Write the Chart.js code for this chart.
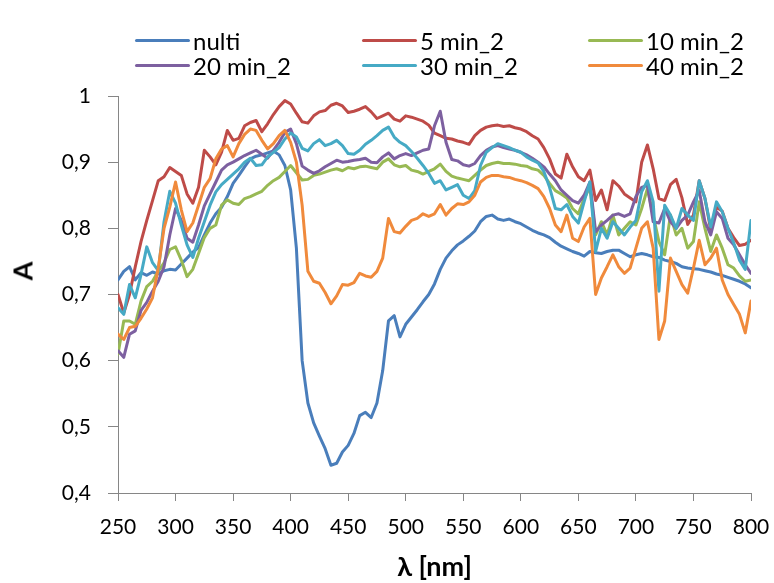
<!DOCTYPE html>
<html>
<head>
<meta charset="utf-8">
<script src="https://cdn.jsdelivr.net/npm/chart.js@4.4.1/dist/chart.umd.min.js"></script>
<style>
  body { margin: 0; background: #fff; }
  #wrap { position: relative; width: 774px; height: 583px; }
  #legend { position: absolute; left: 0; top: 0; width: 774px; height: 90px; font-family: Lato, sans-serif; font-size: 24px; color: #000; }
  .item { position: absolute; display: flex; align-items: center; height: 26px; white-space: nowrap; }
  .swatch { display: inline-block; width: 55px; height: 3px; border-radius: 2px; margin-right: 3px; }
  #ytitle { position: absolute; left: 22px; top: 271px; font-family: Lato, sans-serif; font-weight: bold; font-size: 27px;
            transform: translate(-50%, -50%) rotate(-90deg); line-height: 1; }
</style>
</head>
<body>
<div id="wrap">
  <canvas id="myChart" width="774" height="583"></canvas>
  <div id="legend"></div>
  <div id="ytitle">A</div>
</div>
<script>
// wavelength grid, 5 nm steps
const wavelength = []
for (let nm = 250; nm <= 800; nm += 5) wavelength.push(nm)

const seriesNames = ['nulti', '5 min_2', '10 min_2', '20 min_2', '30 min_2', '40 min_2']
const seriesColors = ['#4A7EBB', '#BE4B48', '#98B954', '#7D60A0', '#46AAC5', '#F08A3C']

const yTicks = [0.4, 0.5, 0.6, 0.7, 0.8, 0.9, 1]

const nulti = [
  0.722, 0.735, 0.742, 0.722, 0.733, 0.729, 0.734, 0.731, 0.736, 0.738,
  0.737, 0.746, 0.755, 0.764, 0.771, 0.79, 0.808, 0.822, 0.832, 0.848,
  0.868, 0.88, 0.893, 0.905, 0.909, 0.911, 0.914, 0.917, 0.911, 0.895,
  0.858, 0.77, 0.6, 0.536, 0.506, 0.486, 0.467, 0.442, 0.445, 0.462,
  0.472, 0.49, 0.517, 0.522, 0.514, 0.536, 0.585, 0.66, 0.668, 0.636,
  0.655, 0.666, 0.677, 0.689, 0.7, 0.716, 0.738, 0.755, 0.766, 0.775,
  0.781, 0.788, 0.796, 0.81, 0.818, 0.82, 0.814, 0.812, 0.814, 0.81,
  0.807, 0.802, 0.797, 0.793, 0.79, 0.786, 0.779, 0.773, 0.769, 0.765,
  0.762, 0.758, 0.765, 0.763, 0.762, 0.765, 0.767, 0.767, 0.762, 0.757,
  0.76, 0.762, 0.76, 0.757, 0.756, 0.752, 0.75, 0.747, 0.742, 0.74,
  0.739, 0.738, 0.736, 0.734, 0.731, 0.729, 0.726, 0.723, 0.72, 0.716,
  0.71
]
const min5 = [
  0.70, 0.672, 0.70, 0.742, 0.78, 0.812, 0.842, 0.872, 0.878, 0.892,
  0.886, 0.88, 0.852, 0.838, 0.862, 0.918, 0.908, 0.896, 0.915, 0.948,
  0.933, 0.936, 0.955, 0.96, 0.963, 0.946, 0.958, 0.972, 0.984, 0.993,
  0.988, 0.974, 0.961, 0.959, 0.97, 0.976, 0.978, 0.986, 0.989, 0.985,
  0.975, 0.977, 0.98, 0.984, 0.976, 0.966, 0.97, 0.974, 0.965, 0.962,
  0.97, 0.968, 0.965, 0.962, 0.956, 0.944, 0.94, 0.936, 0.935, 0.932,
  0.93, 0.927, 0.94, 0.948, 0.953, 0.955, 0.956, 0.954, 0.955, 0.952,
  0.95, 0.946, 0.94, 0.935, 0.922, 0.905, 0.882, 0.876, 0.912, 0.893,
  0.878, 0.872, 0.888, 0.842, 0.858, 0.828, 0.872, 0.864, 0.852, 0.846,
  0.84, 0.9, 0.926, 0.89, 0.845, 0.842, 0.866, 0.874, 0.846, 0.806,
  0.82, 0.872, 0.845, 0.798, 0.832, 0.826, 0.8, 0.786, 0.774, 0.776,
  0.782
]
const min10 = [
  0.61, 0.66, 0.66, 0.655, 0.69, 0.712, 0.72, 0.735, 0.748, 0.768,
  0.772, 0.752, 0.727, 0.738, 0.762, 0.786, 0.8, 0.805, 0.835, 0.843,
  0.838, 0.836, 0.845, 0.848, 0.852, 0.856, 0.865, 0.872, 0.877, 0.886,
  0.895, 0.884, 0.873, 0.874, 0.88, 0.882, 0.885, 0.888, 0.89, 0.887,
  0.892, 0.89, 0.893, 0.894, 0.892, 0.89, 0.9, 0.905, 0.896, 0.893,
  0.895, 0.888, 0.886, 0.882, 0.886, 0.89, 0.897, 0.886, 0.879, 0.876,
  0.874, 0.872, 0.88, 0.888, 0.895, 0.898, 0.9, 0.898, 0.898, 0.897,
  0.895, 0.894, 0.89, 0.888, 0.88, 0.868, 0.857, 0.852, 0.846, 0.83,
  0.822, 0.845, 0.862, 0.79, 0.81, 0.79, 0.82, 0.79, 0.8, 0.81,
  0.805, 0.83, 0.86, 0.82, 0.78, 0.76, 0.82, 0.79, 0.8, 0.77,
  0.78, 0.84, 0.8, 0.765, 0.79, 0.77, 0.745, 0.74, 0.728, 0.72,
  0.722
]
const min20 = [
  0.615, 0.605, 0.64, 0.645, 0.676, 0.688, 0.705, 0.72, 0.742, 0.79,
  0.83, 0.812, 0.785, 0.779, 0.805, 0.834, 0.852, 0.87, 0.888, 0.896,
  0.9, 0.905, 0.91, 0.914, 0.918, 0.912, 0.906, 0.918, 0.93, 0.945,
  0.95, 0.928, 0.894, 0.888, 0.883, 0.887, 0.893, 0.898, 0.903, 0.9,
  0.901, 0.903, 0.904, 0.906, 0.9, 0.899, 0.908, 0.914, 0.905, 0.91,
  0.913, 0.91, 0.914, 0.918, 0.92, 0.955, 0.977, 0.93, 0.904, 0.902,
  0.896, 0.894, 0.898, 0.91, 0.918, 0.923, 0.925, 0.922, 0.92, 0.918,
  0.915, 0.911, 0.906, 0.9, 0.893, 0.882, 0.872, 0.858, 0.85, 0.842,
  0.838, 0.85, 0.87, 0.795, 0.805, 0.812, 0.82, 0.822, 0.818, 0.822,
  0.848, 0.862, 0.865, 0.81, 0.808, 0.83, 0.81, 0.8, 0.812, 0.82,
  0.84, 0.857, 0.81, 0.79, 0.825, 0.815, 0.785, 0.775, 0.76, 0.745,
  0.732
]
const min30 = [
  0.68, 0.67, 0.715, 0.695, 0.73, 0.772, 0.748, 0.736, 0.81, 0.856,
  0.838, 0.805, 0.775, 0.756, 0.785, 0.81, 0.835, 0.855, 0.866, 0.874,
  0.882, 0.89, 0.9, 0.906, 0.895, 0.896, 0.908, 0.915, 0.922, 0.935,
  0.944, 0.938, 0.921, 0.917, 0.928, 0.934, 0.925, 0.928, 0.933, 0.925,
  0.913, 0.912, 0.918, 0.927, 0.933, 0.94, 0.948, 0.953, 0.938, 0.93,
  0.925, 0.916, 0.906, 0.895, 0.883, 0.868, 0.872, 0.858, 0.862, 0.866,
  0.85, 0.845, 0.857, 0.895, 0.915, 0.922, 0.928, 0.925, 0.922, 0.918,
  0.915, 0.908, 0.903, 0.899, 0.886, 0.862, 0.83, 0.828, 0.836, 0.818,
  0.808, 0.84, 0.87, 0.765, 0.8, 0.785, 0.81, 0.8, 0.79, 0.802,
  0.812, 0.855, 0.872, 0.84, 0.705, 0.835, 0.82, 0.8, 0.83, 0.82,
  0.812, 0.872, 0.845, 0.802, 0.84, 0.825, 0.8, 0.778, 0.752, 0.738,
  0.812
]
const min40 = [
  0.64, 0.632, 0.65, 0.652, 0.664, 0.678, 0.695, 0.74, 0.8, 0.832,
  0.87, 0.828, 0.795, 0.808, 0.835, 0.862, 0.875, 0.905, 0.92, 0.925,
  0.908, 0.928, 0.942, 0.95, 0.948, 0.933, 0.92, 0.928, 0.94, 0.948,
  0.93, 0.9, 0.835, 0.735, 0.72, 0.717, 0.703, 0.686, 0.698, 0.715,
  0.714, 0.718, 0.732, 0.728, 0.726, 0.735, 0.755, 0.815, 0.795, 0.793,
  0.803, 0.812, 0.815, 0.822, 0.818, 0.822, 0.836, 0.82, 0.83, 0.837,
  0.836, 0.84, 0.85, 0.87, 0.877, 0.88, 0.88, 0.878, 0.877, 0.874,
  0.872, 0.869, 0.865, 0.86, 0.848, 0.83, 0.805, 0.795, 0.82, 0.785,
  0.78, 0.802, 0.815, 0.7, 0.725, 0.742, 0.76, 0.742, 0.732, 0.74,
  0.77, 0.8, 0.81, 0.77, 0.632, 0.66, 0.755, 0.735, 0.715, 0.702,
  0.74, 0.782, 0.745, 0.755, 0.77, 0.722, 0.7, 0.685, 0.67, 0.642,
  0.69
]

const allSeries = [nulti, min5, min10, min20, min30, min40]

Chart.defaults.font.family = 'Lato, sans-serif'
Chart.defaults.color = '#000'

const axisGray = '#868686'

function chart() {
  const find = document.getElementById('myChart')
  const datasets = allSeries.map((vals, i) => ({
    label: seriesNames[i],
    data: wavelength.map((nm, k) => ({ x: nm, y: vals[k] })),
    borderColor: seriesColors[i],
    backgroundColor: seriesColors[i],
    borderWidth: 3,
    pointRadius: 0,
    borderJoinStyle: 'round',
    borderCapStyle: 'round',
    tension: 0,
    order: allSeries.length - i   // later series drawn on top, like Excel
  }))

  return new Chart(find, {
    type: 'line',
    data: { datasets: datasets },
    options: {
      responsive: false,
      animation: false,
      devicePixelRatio: 1,
      layout: { padding: { top: 96, right: 23, left: 0, bottom: 0 } },
      plugins: { legend: { display: false }, tooltip: { enabled: false } },
      scales: {
        x: {
          type: 'linear',
          min: 250,
          max: 800,
          afterFit: (scale) => {
            scale.height = 90
            scale.paddingLeft = 0
            scale.paddingRight = 0
          },
          ticks: { stepSize: 50, padding: 14, font: { size: 21 }, maxRotation: 0 },
          grid: { drawOnChartArea: false, drawTicks: true, tickLength: 8, color: axisGray },
          border: { display: true, color: axisGray, width: 1 },
          title: { display: true, text: 'λ [nm]', font: { size: 27, weight: 'bold' }, padding: { top: 0, bottom: 0 } }
        },
        y: {
          min: 0.4,
          max: 1,
          afterFit: (scale) => { scale.width = 118 },
          afterBuildTicks: (scale) => { scale.ticks = yTicks.map(v => ({ value: v })) },
          ticks: {
            padding: 17,
            font: { size: 21 },
            callback: (v) => (v === 1 ? '1' : v.toFixed(1).replace('.', ','))
          },
          grid: { drawOnChartArea: false, drawTicks: true, tickLength: 10, color: axisGray },
          border: { display: true, color: axisGray, width: 1 }
        }
      }
    }
  })
}

window.addEventListener('DOMContentLoaded', () => {
  const myChart = chart()

  // legend: 3 columns x 2 rows, as in the Excel chart
  const legendX = [135, 362, 588]
  const legendY = [27, 52]
  const legend = document.getElementById('legend')
  myChart.data.datasets.forEach((ds, i) => {
    const item = document.createElement('div')
    item.className = 'item'
    item.style.left = legendX[i % 3] + 'px'
    item.style.top = legendY[Math.floor(i / 3)] + 'px'
    const sw = document.createElement('span')
    sw.className = 'swatch'
    sw.style.background = ds.borderColor
    item.appendChild(sw)
    item.appendChild(document.createTextNode(ds.label))
    legend.appendChild(item)
  })
})
</script>
</body>
</html>
